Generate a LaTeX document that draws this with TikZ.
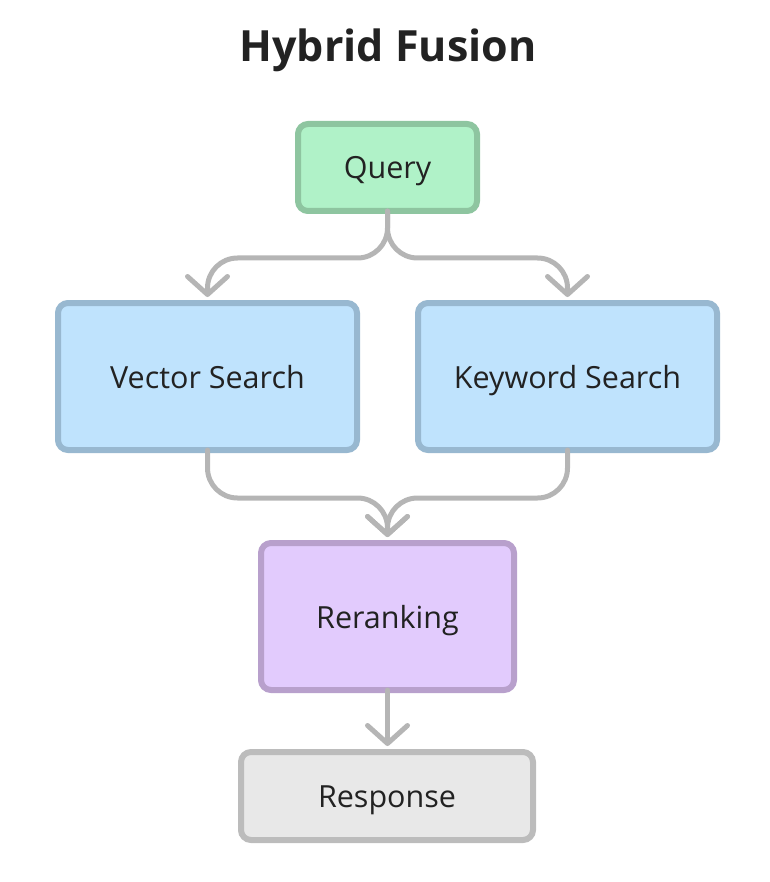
\documentclass[tikz,border=0pt]{standalone}
\usepackage{fontspec}
\setmainfont{Open Sans}
\usetikzlibrary{arrows.meta}
\definecolor{qfill}{HTML}{B0F2C8}
\definecolor{qdraw}{HTML}{8EC5A0}
\definecolor{bfill}{HTML}{BFE3FD}
\definecolor{bdraw}{HTML}{98B8D0}
\definecolor{pfill}{HTML}{E2CBFD}
\definecolor{pdraw}{HTML}{B8A0CC}
\definecolor{gfill}{HTML}{E8E8E8}
\definecolor{gdraw}{HTML}{BCBCBC}
\definecolor{conn}{HTML}{B5B5B5}
\definecolor{txt}{HTML}{222222}
\tikzset{
  boxnode/.style={draw, line width=6pt, rounded corners=10pt, inner sep=0pt,
    text=txt, font=\fontsize{30.5}{34}\selectfont, text height=29pt, text depth=6pt},
  link/.style={draw=conn, line width=5pt, rounded corners=30pt, line cap=round,
    -{Straight Barb[length=18pt,width=40pt,line cap=round,line join=round]}},
}
\begin{document}
\begin{tikzpicture}[x=1pt,y=-1pt]
\useasboundingbox (0,0) rectangle (769,882);
\node[text=txt, font=\fontsize{43}{48}\selectfont\bfseries] (title) at (388,50) {Hybrid Fusion};
\node[boxnode, fill=qfill, draw=qdraw, minimum width=179pt, minimum height=87pt] (q) at (387.5,167.5) {Query};
\node[boxnode, fill=bfill, draw=bdraw, minimum width=299pt, minimum height=147pt] (v) at (207.5,376.5) {Vector Search};
\node[boxnode, fill=bfill, draw=bdraw, minimum width=299pt, minimum height=147pt] (k) at (567.5,376.5) {Keyword Search};
\node[boxnode, fill=pfill, draw=pdraw, minimum width=253pt, minimum height=147pt] (r) at (387.5,616.5) {Reranking};
\node[boxnode, fill=gfill, draw=gdraw, minimum width=292pt, minimum height=88pt] (s) at (387,796) {Response};
\coordinate (qv) at (207.5,297);
\coordinate (qk) at (567.5,297);
\coordinate (rt) at (387.5,537);
\coordinate (st) at (387.5,746);
\path[link] ([yshift=3pt]q.south) -- (387.5,258) -- (207.5,258) -- (qv);
\path[link] ([yshift=3pt]q.south) -- (387.5,258) -- (567.5,258) -- (qk);
\path[link] ([yshift=3pt]v.south) -- (207.5,498) -- (387.5,498) -- (rt);
\path[link] ([yshift=3pt]k.south) -- (567.5,498) -- (387.5,498) -- (rt);
\path[link] ([yshift=3pt]r.south) -- (st);
\end{tikzpicture}
\end{document}
